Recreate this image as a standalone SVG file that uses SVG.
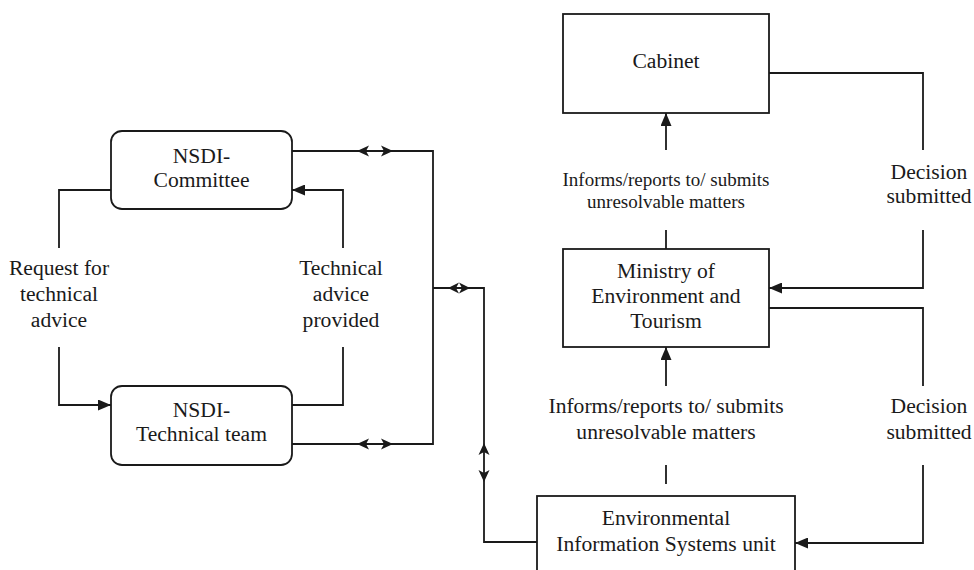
<svg xmlns="http://www.w3.org/2000/svg" width="974" height="570" viewBox="0 0 974 570">
  <style>
    .box { fill: #ffffff; stroke: #1a1a1a; stroke-width: 1.8; }
    .line { fill: none; stroke: #1a1a1a; stroke-width: 1.8; }
    .head { fill: #1a1a1a; stroke: none; }
    text { font-family: 'Liberation Serif', 'Times New Roman', 'DejaVu Serif', serif; font-size: 21.6px; fill: #1a1a1a; text-anchor: middle; }
    .small { font-size: 19px; }
  </style>
  <defs>
    <marker id="arr" markerUnits="userSpaceOnUse" markerWidth="13" markerHeight="11" refX="13" refY="5.5" orient="auto">
      <path d="M0,0 L13,5.5 L0,11 Z" fill="#1a1a1a"/>
    </marker>
  </defs>
  <rect width="974" height="570" fill="#ffffff"/>

  <!-- connectors -->
  <g id="connectors">
    <!-- request for technical advice -->
    <path class="line" d="M111,190 H59 V248"/>
    <path class="line" d="M59,347 V405 H111" marker-end="url(#arr)"/>
    <!-- technical advice provided -->
    <path class="line" d="M292,405 H343 V347"/>
    <path class="line" d="M343,248 V190 H292" marker-end="url(#arr)"/>
    <!-- NSDI bus -->
    <path class="line" d="M292,151 H433 V444 H292"/>
    <path class="head" d="M357,151 L369,145.5 L366,151 L369,156.5 Z"/>
    <path class="head" d="M393,151 L381,145.5 L384,151 L381,156.5 Z"/>
    <path class="head" d="M357,444 L369,438.5 L366,444 L369,449.5 Z"/>
    <path class="head" d="M393,444 L381,438.5 L384,444 L381,449.5 Z"/>
    <!-- link to EIS unit -->
    <path class="line" d="M433,288 H484 V542 H537"/>
    <path class="head" d="M448,288 L459,282.5 L456,288 L459,293.5 Z"/>
    <path class="head" d="M470,288 L459,282.5 L462,288 L459,293.5 Z"/>
    <path class="head" d="M484,443 L478.5,455 L484,452 L489.5,455 Z"/>
    <path class="head" d="M484,482 L478.5,470 L484,473 L489.5,470 Z"/>
    <!-- Ministry to Cabinet -->
    <path class="line" d="M666,249 V230"/>
    <path class="line" d="M666,150 V113" marker-end="url(#arr)"/>
    <!-- Cabinet decision -->
    <path class="line" d="M769,73 H923 V150"/>
    <path class="line" d="M923,230 V288 H769" marker-end="url(#arr)"/>
    <!-- Ministry decision -->
    <path class="line" d="M769,308 H923 V386"/>
    <path class="line" d="M923,465 V543 H795" marker-end="url(#arr)"/>
    <!-- EIS unit to Ministry -->
    <path class="line" d="M666,484 V465"/>
    <path class="line" d="M666,386 V347" marker-end="url(#arr)"/>
  </g>

  <!-- connector labels -->
  <g id="labels">
    <text x="59" y="275">Request for</text>
    <text x="59" y="301">technical</text>
    <text x="59" y="327">advice</text>
    <text x="341" y="275">Technical</text>
    <text x="341" y="301">advice</text>
    <text x="341" y="327">provided</text>
    <text class="small" x="666" y="186">Informs/reports to/ submits</text>
    <text class="small" x="666" y="208">unresolvable matters</text>
    <text x="929" y="179">Decision</text>
    <text x="929" y="203">submitted</text>
    <text x="666" y="413">Informs/reports to/ submits</text>
    <text x="666" y="439">unresolvable matters</text>
    <text x="929" y="413">Decision</text>
    <text x="929" y="439">submitted</text>
  </g>

  <g id="nsdi-committee">
    <rect class="box" x="111" y="131" width="181" height="78" rx="11"/>
    <text x="201.5" y="163">NSDI-</text>
    <text x="201.5" y="187">Committee</text>
  </g>

  <g id="nsdi-technical-team">
    <rect class="box" x="111" y="386" width="181" height="79" rx="11"/>
    <text x="201.5" y="417">NSDI-</text>
    <text x="201.5" y="441">Technical team</text>
  </g>

  <g id="cabinet">
    <rect class="box" x="563" y="14" width="206" height="99"/>
    <text x="666" y="68">Cabinet</text>
  </g>

  <g id="ministry">
    <rect class="box" x="563" y="249" width="206" height="98"/>
    <text x="666" y="278">Ministry of</text>
    <text x="666" y="303">Environment and</text>
    <text x="666" y="328">Tourism</text>
  </g>

  <g id="eis-unit">
    <rect class="box" x="537" y="496" width="258" height="85"/>
    <text x="666" y="525">Environmental</text>
    <text x="666" y="551">Information Systems unit</text>
  </g>
</svg>
